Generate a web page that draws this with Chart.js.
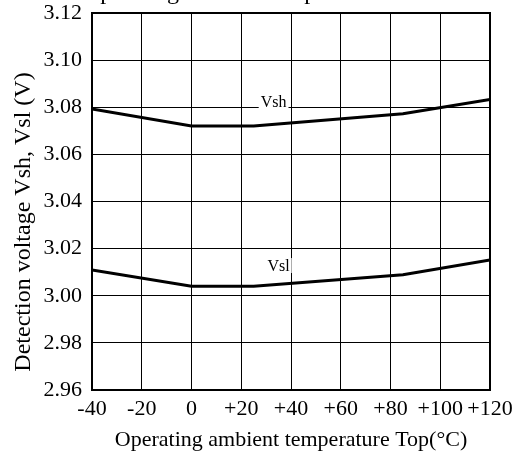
<!DOCTYPE html>
<html>
<head>
<meta charset="utf-8">
<script src="https://cdn.jsdelivr.net/npm/chart.js@4"></script>
<style>
  html, body { margin: 0; padding: 0; background: #fff; }
  #wrap { width: 520px; height: 457px; position: relative; }
</style>
</head>
<body>
<div id="wrap"><canvas id="chart"></canvas></div>
<script>
// data
const temps = [-40, 0, 25, 85, 120];
const vsh = [3.0793, 3.0720, 3.0720, 3.0772, 3.0833];
const vsl = [3.0109, 3.0040, 3.0040, 3.0089, 3.0152];
const seriesNames = ['Vsh', 'Vsl'];
const nameAtX = [33, 35];
const nameAtY = [3.0803, 3.0105];
const xTickLabels = ['-40', '-20', '0', '+20', '+40', '+60', '+80', '+100', '+120'];
const yTickLabels = ['2.96', '2.98', '3.00', '3.02', '3.04', '3.06', '3.08', '3.10', '3.12'];
const xTitle = 'Operating ambient temperature Top(°C)';
const yTitle = 'Detection voltage Vsh, Vsl (V)';

const serif = "'Liberation Serif', 'DejaVu Serif', serif";

const toPoints = (ys) => temps.map((t, i) => ({ x: t, y: ys[i] }));

const frame = {
  id: 'frame',
  afterDraw(chart) {
    const ctx = chart.ctx;
    const a = chart.chartArea;
    ctx.save();
    // plot border
    ctx.strokeStyle = '#000';
    ctx.lineWidth = 2;
    ctx.strokeRect(a.left, a.top, a.right - a.left, a.bottom - a.top);

    // curve names
    const xs = chart.scales.x, ys = chart.scales.y;
    ctx.font = '16px ' + serif;
    ctx.textAlign = 'center';
    ctx.textBaseline = 'alphabetic';
    seriesNames.forEach((name, i) => {
      const px = xs.getPixelForValue(nameAtX[i]);
      const py = ys.getPixelForValue(nameAtY[i]);
      const w = ctx.measureText(name).width;
      ctx.fillStyle = '#fff';
      ctx.fillRect(px - w / 2 - 2, py - 13, w + 4, 15);
      ctx.fillStyle = '#000';
      ctx.fillText(name, px, py);
    });

    // y title
    ctx.font = '24px ' + serif;
    ctx.translate(24, 222);
    ctx.rotate(-Math.PI / 2);
    ctx.textBaseline = 'middle';
    ctx.fillText(yTitle, 0, 0);
    ctx.restore();

    // cut-off caption from the figure above
    ctx.save();
    ctx.font = '24px ' + serif;
    ctx.fillStyle = '#000';
    ctx.textAlign = 'left';
    ctx.textBaseline = 'alphabetic';
    ctx.fillText('Operating ambient temperature', 83, -1);
    ctx.restore();
  }
};

new Chart(document.getElementById('chart'), {
  type: 'line',
  data: {
    datasets: [
      { label: 'Vsh', data: toPoints(vsh), borderColor: '#000', borderWidth: 3, pointRadius: 0, fill: false, tension: 0 },
      { label: 'Vsl', data: toPoints(vsl), borderColor: '#000', borderWidth: 3, pointRadius: 0, fill: false, tension: 0 }
    ]
  },
  options: {
    responsive: true,
    maintainAspectRatio: false,
    animation: false,
    layout: { padding: { top: 13, right: 30, left: 0, bottom: 0 } },
    plugins: { legend: { display: false }, tooltip: { enabled: false } },
    scales: {
      x: {
        type: 'linear',
        min: -40,
        max: 120,
        afterFit: (s) => { s.height = 67; },
        ticks: {
          stepSize: 20,
          padding: 6,
          color: '#000',
          maxRotation: 0,
          font: { family: serif, size: 22 },
          callback: (v, i) => xTickLabels[i]
        },
        grid: { color: '#000', lineWidth: 1, drawTicks: false },
        border: { color: '#000', width: 2 },
        title: {
          display: true,
          text: xTitle,
          color: '#000',
          font: { family: serif, size: 22 },
          padding: { top: 0, bottom: 4 }
        }
      },
      y: {
        min: 2.96,
        max: 3.12,
        afterFit: (s) => { s.width = 92; s.paddingTop = 0; s.paddingBottom = 0; },
        ticks: {
          stepSize: 0.02,
          padding: 10,
          color: '#000',
          font: { family: serif, size: 22 },
          callback: (v, i) => yTickLabels[i]
        },
        grid: { color: '#000', lineWidth: 1, drawTicks: false },
        border: { color: '#000', width: 2 }
      }
    }
  },
  plugins: [frame]
});
</script>
</body>
</html>
